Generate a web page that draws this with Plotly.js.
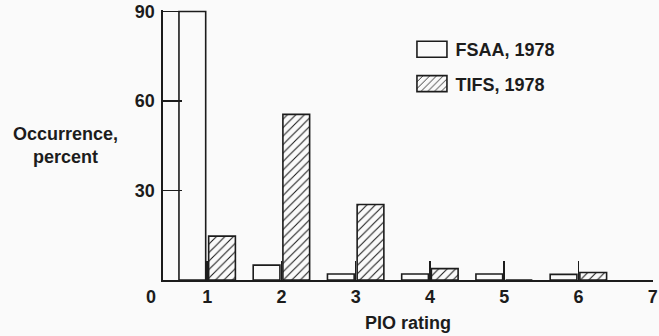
<!DOCTYPE html>
<html>
<head>
<meta charset="utf-8">
<script src="https://cdn.plot.ly/plotly-3.0.1.min.js"></script>
<style>
html,body{margin:0;padding:0;background:#fafafa;}
#chart{width:659px;height:336px;}
</style>
</head>
<body>
<div id="chart"></div>
<script>
// PIO rating categories
const ratings = [1, 2, 3, 4, 5, 6];
const tickValues = [1, 2, 3, 4, 5, 6, 7];
const tickLabels = ["1", "2", "3", "4", "5", "6", "7"];
// Occurrence, percent
const fsaa1978 = [90, 5, 2, 2, 2, 1.9];
const tifs1978 = [14.7, 55.5, 25.3, 3.8, 0, 2.5];
const yTickValues = [30, 60, 90];
const yTickLabels = ["30", "60", "90"];

const ink = "#1c1c1c";
const F = {family: "Liberation Sans, Arial, sans-serif", size: 18, color: ink, weight: "bold"};

const traces = [
  {
    type: "bar", name: "FSAA, 1978", x: ratings, y: fsaa1978,
    legendgroup: "a",
    marker: {color: "#fafafa", line: {color: ink, width: 1.6}},
    hoverinfo: "skip"
  },
  {
    type: "bar", name: "TIFS, 1978", x: ratings, y: tifs1978,
    legendgroup: "b",
    marker: {color: "#fafafa", line: {color: ink, width: 1.6},
      pattern: {shape: "/", fgcolor: ink, bgcolor: "#fafafa", size: 6, solidity: 0.18}},
    hoverinfo: "skip"
  }
];

const layout = {
  width: 659, height: 336,
  margin: {l: 163, r: 6, t: 10, b: 56, pad: 0},
  paper_bgcolor: "#fafafa", plot_bgcolor: "#fafafa",
  font: F,
  barmode: "group", bargap: 0.2, bargroupgap: 0.1,
  showlegend: true,
  legend: {x: 0.5152, xanchor: "left", y: 0.922, yanchor: "top",
    bgcolor: "rgba(0,0,0,0)", font: F, traceorder: "grouped", tracegroupgap: 8},
  xaxis: {
    range: [0.405, 7.005], tickmode: "array", tickvals: tickValues, ticktext: tickLabels,
    ticks: "inside", ticklen: 19, tickwidth: 1.6, tickcolor: ink,
    showline: true, linecolor: ink, linewidth: 1.6, showgrid: false, zeroline: false,
    tickfont: F,
    title: {text: "PIO rating", font: F, standoff: 10}
  },
  yaxis: {
    range: [0, 90.5], tickmode: "array", tickvals: yTickValues, ticktext: yTickLabels,
    ticks: "inside", ticklen: 19, tickwidth: 1.6, tickcolor: ink,
    showline: true, linecolor: ink, linewidth: 1.6, showgrid: false, zeroline: false,
    tickfont: F, ticklabelstandoff: 3
  },
  annotations: [
    {text: "Occurrence,<br>percent", xref: "paper", yref: "paper", x: -0.2, y: 0.5,
      xanchor: "center", yanchor: "middle", showarrow: false, font: F, align: "center"},
    {text: "0", xref: "paper", yref: "paper", x: -0.0245, y: -0.063,
      xanchor: "center", yanchor: "middle", showarrow: false, font: F}
  ]
};

function widenSwatches(gd) {
  // make the legend swatches wide rectangles like the original key
  gd.querySelectorAll(".legend .traces").forEach(function (tr) {
    tr.querySelectorAll(".legendpoints path").forEach(function (p) {
      const m = /translate\(([-\d.]+)/.exec(p.getAttribute("transform") || "");
      const ox = m ? parseFloat(m[1]) : 0;
      const left = 1.5 - ox, right = left + 30;
      p.setAttribute("d", "M" + right + ",8H" + left + "V-8H" + right + "Z");
    });
  });
}

Plotly.newPlot("chart", traces, layout, {displayModeBar: false, staticPlot: true})
  .then(widenSwatches);
</script>
</body>
</html>
